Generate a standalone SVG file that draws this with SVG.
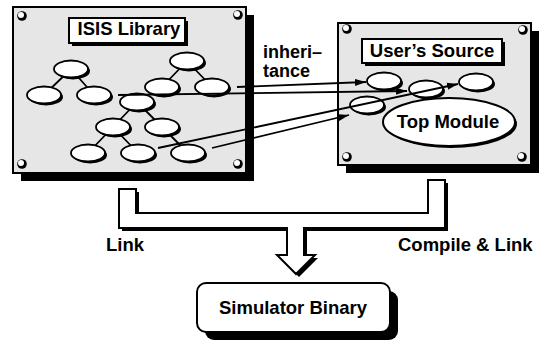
<svg xmlns="http://www.w3.org/2000/svg" width="540" height="343" viewBox="0 0 540 343">
<defs>
<marker id="ah" markerUnits="userSpaceOnUse" markerWidth="12" markerHeight="8" refX="11" refY="4" orient="auto"><path d="M0,0.5 L11,4 L0,7.5 z" fill="#000"/></marker>
<g id="ov"><ellipse cx="2" cy="2" rx="17" ry="8.5" fill="#000"/><ellipse cx="0" cy="0" rx="17" ry="8.5" fill="#fff" stroke="#000" stroke-width="1.8"/></g>
<g id="screw"><circle cx="1" cy="1" r="4.8" fill="#000"/><circle cx="0" cy="0" r="3" fill="#fff"/></g>
</defs>
<style>
.panel{fill:#e6e6e6;stroke:#000;stroke-width:2}
.shadow{fill:#000}
.lbl{fill:#fff;stroke:#000;stroke-width:2}
.t{font-family:"Liberation Sans",Arial,sans-serif;font-weight:bold;font-size:18.5px;fill:#000}
.edge{stroke:#000;stroke-width:1.8;fill:none}
.conn{stroke:#000;stroke-width:1.8;fill:none;marker-end:url(#ah)}
</style>
<rect width="540" height="343" fill="#fff"/>
<g id="isis-library">
<rect class="shadow" x="21" y="15" width="233" height="166"/>
<rect class="panel" x="13" y="7" width="233" height="166"/>
<use href="#screw" x="21" y="15"/>
<use href="#screw" x="237" y="14"/>
<use href="#screw" x="21" y="163"/>
<use href="#screw" x="237" y="163"/>
<rect class="shadow" x="72" y="21" width="116" height="25"/>
<rect class="lbl" x="69" y="18" width="116" height="25"/>
<text class="t" x="129" y="35" text-anchor="middle">ISIS Library</text>
<g id="tree-lines">
<path class="edge" d="M71,69 L44,95 M71,69 L94,95 M187,61 L162,87 M187,61 L212,87 M137,102 L113,127 M137,102 L162,127 M113,127 L88,153 M113,127 L138,153 M162,127 L188,153"/>
</g>
<use href="#ov" x="71" y="69"/>
<use href="#ov" x="44" y="95"/>
<use href="#ov" x="94" y="95"/>
<use href="#ov" x="187" y="61"/>
<use href="#ov" x="162" y="87"/>
<use href="#ov" x="212" y="87"/>
<use href="#ov" x="137" y="102"/>
<use href="#ov" x="113" y="127"/>
<use href="#ov" x="162" y="127"/>
<use href="#ov" x="88" y="153"/>
<use href="#ov" x="138" y="153"/>
<use href="#ov" x="188" y="153"/>
</g>
<g id="users-source">
<rect class="shadow" x="346" y="31" width="193" height="142"/>
<rect class="panel" x="338" y="23" width="193" height="142"/>
<use href="#screw" x="346" y="28"/>
<use href="#screw" x="522" y="29"/>
<use href="#screw" x="346" y="156"/>
<use href="#screw" x="521" y="156"/>
<rect class="shadow" x="365" y="42" width="140" height="24"/>
<rect class="lbl" x="362" y="39" width="140" height="24"/>
<text class="t" x="432" y="57" text-anchor="middle">User’s Source</text>
<g id="top-module">
<ellipse cx="451" cy="124" rx="66" ry="24" fill="#000"/>
<ellipse cx="449" cy="122" rx="66" ry="24" fill="#fff" stroke="#000" stroke-width="2"/>
<text class="t" x="448" y="128" text-anchor="middle">Top Module</text>
</g>
<use href="#ov" x="384" y="81"/>
<use href="#ov" x="426" y="89"/>
<use href="#ov" x="476" y="82"/>
<use href="#ov" x="367" y="105"/>
</g>
<g id="inheritance-label">
<text class="t" x="263" y="58" style="font-size:18px">inheri–</text>
<text class="t" x="263" y="77" style="font-size:18px">tance</text>
</g>
<g id="connectors">
<line class="conn" x1="237" y1="87" x2="366" y2="82"/>
<line class="conn" x1="118" y1="95" x2="407" y2="91"/>
<line class="conn" x1="158" y1="148" x2="458" y2="84"/>
<line class="conn" x1="212" y1="148" x2="349" y2="115"/>
</g>
<g id="build-arrow">
<polygon fill="#000" points="122,192 139,192 139,216 431,216 431,183 448,183 448,231 307,231 307,258 318,258 299,277 280,258 290,258 290,231 122,231"/>
<polygon fill="#fff" stroke="#000" stroke-width="2" stroke-linejoin="miter" points="119,189 136,189 136,213 428,213 428,180 445,180 445,228 304,228 304,255 315,255 296,274 277,255 287,255 287,228 119,228"/>
<text class="t" x="106" y="251">Link</text>
<text class="t" x="398" y="251">Compile &amp; Link</text>
</g>
<g id="simulator-binary">
<rect class="shadow" x="205" y="291" width="193" height="49" rx="9"/>
<rect x="197" y="283" width="193" height="49" rx="9" fill="#fff" stroke="#000" stroke-width="2"/>
<text class="t" x="293" y="314" text-anchor="middle">Simulator Binary</text>
</g>
</svg>
